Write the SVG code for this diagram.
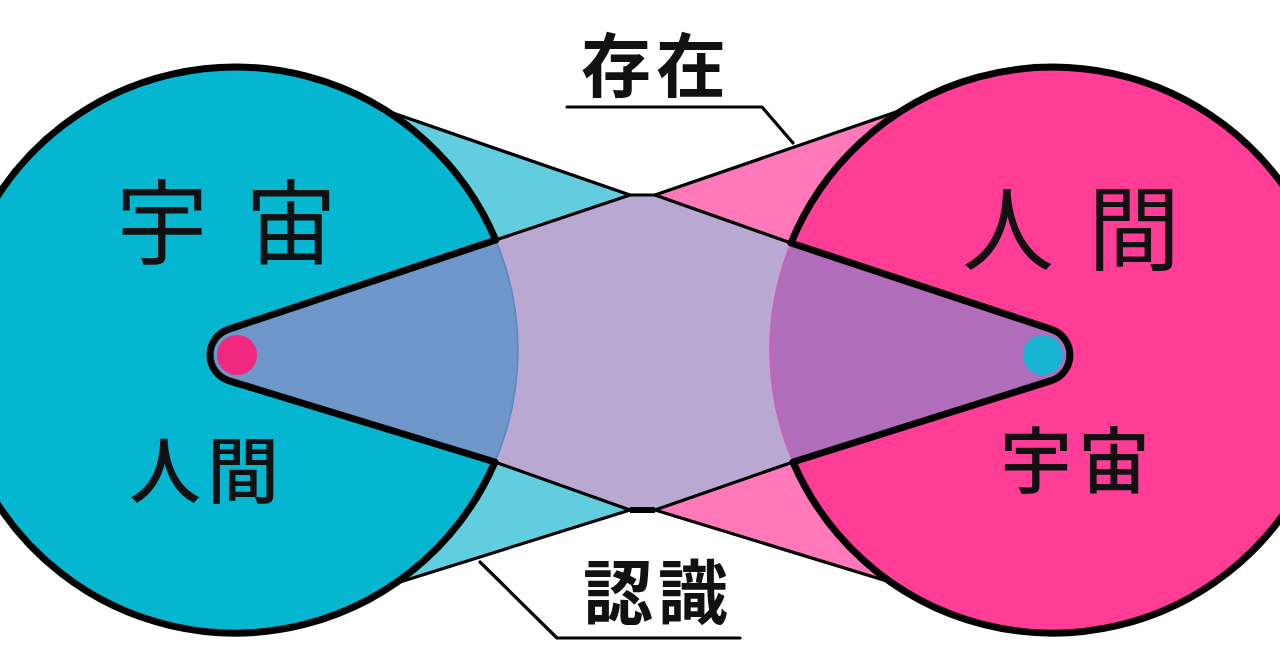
<svg xmlns="http://www.w3.org/2000/svg" width="1280" height="670" viewBox="0 0 1280 670">
<style>
.thin{fill:none;stroke:#000;stroke-width:3.2;stroke-linecap:round;stroke-linejoin:round}
.thick{fill:none;stroke:#000;stroke-width:7;stroke-linecap:round;stroke-linejoin:round}
.ring{fill:none;stroke:#000;stroke-width:7}
.lbl{font-family:"Noto Sans CJK JP","Noto Sans CJK SC",sans-serif;fill:#111;dominant-baseline:central}
.big{font-size:92px;font-weight:400}
.mid{font-size:72px;font-weight:500;letter-spacing:6px}
.cap{font-size:70px;font-weight:700;letter-spacing:5px}
</style>
<rect width="1280" height="670" fill="#fff"/>
<g id="regions">
  <polygon points="630,195 390,112 410,160 495.7,240" fill="#63cde0"/>
  <polygon points="630,510 400,582 410,540 494.9,462" fill="#63cde0"/>
  <polygon points="655,195 896,112 880,160 791,243" fill="#ff78b9"/>
  <polygon points="655,510 890,582 880,540 793,462" fill="#ff78b9"/>
  <polygon points="495.7,240 630,195 655,195 791,243 793,462 655,510 630,510 494.9,462" fill="#b9a8d2"/>
</g>
<g id="node-uchu">
  <circle cx="235" cy="350" r="283" fill="#05b6d1"/>
  <path d="M495.7 240 L228.4 329.4 A27 27 0 0 0 229.1 380.8 L494.9 462 A283 283 0 0 0 495.7 240 Z" fill="#6e96c8"/>
  <path d="M494.9 462 A283 283 0 0 0 495.7 240" fill="none" stroke="#5a86c8" stroke-width="1.5"/>
  <path d="M495.7 240 A283 283 0 1 0 494.9 462" class="ring"/>
  <path d="M495.7 240 L228.4 329.4 A27 27 0 0 0 229.1 380.8 L494.9 462" class="thick"/>
  <circle cx="237" cy="355" r="20" fill="#f0287f"/>
  <text class="lbl big" y="216"><tspan x="116">宇</tspan> <tspan x="245">宙</tspan></text>
  <text class="lbl mid" x="129" y="465">人間</text>
</g>
<g id="node-ningen">
  <circle cx="1053" cy="350" r="283" fill="#ff3c96"/>
  <path d="M791 243 L1051.5 329.4 A27 27 0 0 1 1051.2 380.7 L793 462 A283 283 0 0 1 791 243 Z" fill="#b06eba"/>
  <path d="M793 462 A283 283 0 0 1 791 243" fill="none" stroke="#d35fb0" stroke-width="1.5"/>
  <path d="M791 243 A283 283 0 1 1 793 462" class="ring"/>
  <path d="M791 243 L1051.5 329.4 A27 27 0 0 1 1051.2 380.7 L793 462" class="thick"/>
  <circle cx="1043" cy="355" r="20" fill="#19b4d2"/>
  <text class="lbl big" y="222"><tspan x="962">人</tspan> <tspan x="1088">間</tspan></text>
  <text class="lbl mid" x="1000" y="455">宇宙</text>
</g>
<g id="connectors">
  <polyline class="thin" points="390,112 630,195 495.7,240"/>
  <polyline class="thin" points="400,582 630,510 494.9,462"/>
  <polyline class="thin" points="896,112 655,195 791,243"/>
  <polyline class="thin" points="890,582 655,510 793,462"/>
  <line x1="630" y1="195" x2="655" y2="195" stroke="#000" stroke-width="3"/>
  <line x1="630" y1="510" x2="655" y2="510" stroke="#000" stroke-width="6"/>
  <polyline class="thin" points="567,107 762,107 793,143"/>
  <polyline class="thin" points="480,562 557,638 740,638"/>
</g>
<g id="label-sonzai">
  <text class="lbl cap" x="581" y="61">存在</text>
</g>
<g id="label-ninshiki">
  <text class="lbl cap" x="583" y="588">認識</text>
</g>
</svg>
